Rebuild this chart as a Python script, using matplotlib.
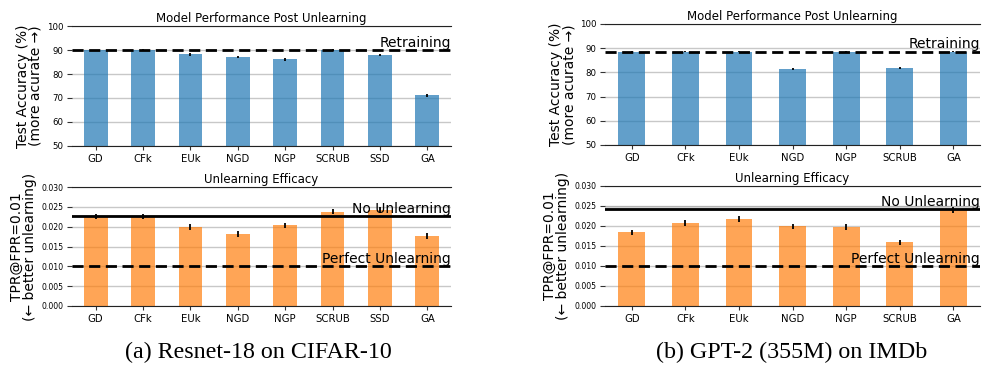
import matplotlib
matplotlib.use("Agg")
import matplotlib.pyplot as plt
import numpy as np

# (a) Resnet-18 on CIFAR-10
methods_a = ["GD", "CFk", "EUk", "NGD", "NGP", "SCRUB", "SSD", "GA"]
acc_a = [89.8, 89.9, 88.3, 87.0, 86.2, 89.9, 87.9, 71.1]
acc_err_a = [0.4, 0.4, 0.6, 0.5, 0.6, 0.5, 0.6, 0.6]
tpr_a = [0.0226, 0.0226, 0.0199, 0.0181, 0.0203, 0.0238, 0.0242, 0.0176]
tpr_err_a = [0.0007, 0.0007, 0.0007, 0.0007, 0.0007, 0.0007, 0.0007, 0.0007]
retrain_a = 89.8
no_unlearn_a = 0.0227
no_unlearn_std_a = 0.0002

# (b) GPT-2 (355M) on IMDb
methods_b = ["GD", "CFk", "EUk", "NGD", "NGP", "SCRUB", "GA"]
acc_b = [88.6, 88.6, 88.5, 81.4, 88.6, 81.8, 88.5]
acc_err_b = [0.2, 0.2, 0.2, 0.3, 0.3, 0.3, 0.2]
tpr_b = [0.0184, 0.0207, 0.0217, 0.0199, 0.0197, 0.0159, 0.0240]
tpr_err_b = [0.0007, 0.0007, 0.0007, 0.0007, 0.0007, 0.0006, 0.0007]
retrain_b = 88.5
no_unlearn_b = 0.0243
no_unlearn_std_b = 0.0006
perfect = 0.010

BLUE = "#1f77b4"
ORANGE = "#ff7f0e"


def style_axes(ax, n, ytick_size):
    ax.set_xlim(-0.5, n - 0.5)
    ax.grid(axis="y", color="#c8c8c8", linewidth=1.0, zorder=0)
    ax.set_axisbelow(True)
    for side in ["left", "right"]:
        ax.spines[side].set_visible(False)
    for side in ["top", "bottom"]:
        ax.spines[side].set_color("#222222")
    ax.tick_params(axis="x", labelsize=7.3, length=3, color="#333333", pad=2.5)
    ax.tick_params(axis="y", labelsize=ytick_size, length=3.5, color="#333333", pad=2.5)


def draw_bars(ax, names, vals, errs, color, ytick_size):
    x = np.arange(len(names))
    ax.bar(x, vals, width=0.5, color=color, alpha=0.7, zorder=2)
    ax.errorbar(x, vals, yerr=errs, fmt="none", ecolor="black", elinewidth=1.3, zorder=3)
    ax.set_xticks(x)
    ax.set_xticklabels(names)
    style_axes(ax, len(names), ytick_size)


fig = plt.figure(figsize=(9.82, 3.68), dpi=100)

panels = [
    (methods_a, acc_a, acc_err_a, tpr_a, tpr_err_a, retrain_a, no_unlearn_a, no_unlearn_std_a,
     [0.0733, 0.6033, 0.3860, 0.3260], [0.0733, 0.1685, 0.3860, 0.3233]),
    (methods_b, acc_b, acc_err_b, tpr_b, tpr_err_b, retrain_b, no_unlearn_b, no_unlearn_std_b,
     [0.6161, 0.6060, 0.3820, 0.3288], [0.6161, 0.1685, 0.3820, 0.3261]),
]

for names, acc, acc_err, tpr, tpr_err, retrain, nounl, nounl_std, rect_top, rect_bot in panels:
    n = len(names)
    ax1 = fig.add_axes(rect_top)
    draw_bars(ax1, names, acc, acc_err, BLUE, 6.2)
    ax1.set_ylim(50, 100)
    ax1.set_yticks([50, 60, 70, 80, 90, 100])
    ax1.axhline(retrain, color="black", linestyle="--", linewidth=2, dashes=(4, 2), zorder=4)
    ax1.text(n - 0.5, retrain + 1.4, "Retraining", ha="right", va="baseline", fontsize=10, zorder=5)
    ax1.set_title("Model Performance Post Unlearning", fontsize=8.5, pad=3)
    ax1.set_ylabel("Test Accuracy (%)\n(more acurate \u2192)", fontsize=10, linespacing=0.95, labelpad=3)

    ax2 = fig.add_axes(rect_bot)
    draw_bars(ax2, names, tpr, tpr_err, ORANGE, 5.6)
    ax2.set_ylim(0, 0.030)
    ax2.set_yticks(np.arange(0, 0.0301, 0.005))
    ax2.yaxis.set_major_formatter(matplotlib.ticker.FormatStrFormatter("%.3f"))
    ax2.axhspan(nounl - nounl_std, nounl + nounl_std, color="gray", alpha=0.3, lw=0, zorder=1)
    ax2.axhline(nounl, color="black", linewidth=2, zorder=4)
    ax2.text(n - 0.5, nounl + 0.0008, "No Unlearning", ha="right", va="baseline", fontsize=10, zorder=5)
    ax2.axhline(perfect, color="black", linestyle="--", linewidth=2, dashes=(4, 2), zorder=4)
    ax2.text(n - 0.5, perfect + 0.0008, "Perfect Unlearning", ha="right", va="baseline", fontsize=10, zorder=5)
    ax2.set_title("Unlearning Efficacy", fontsize=8.5, pad=3)
    ax2.set_ylabel("TPR@FPR=0.01\n(\u2190 better unlearning)", fontsize=10, linespacing=0.95, labelpad=3)

fig.text(0.263, 0.042, "(a) Resnet-18 on CIFAR-10", ha="center", va="center",
         fontsize=17.3, family="Liberation Serif")
fig.text(0.806, 0.042, "(b) GPT-2 (355M) on IMDb", ha="center", va="center",
         fontsize=17.3, family="Liberation Serif")

fig.savefig("out.png", dpi=100)
